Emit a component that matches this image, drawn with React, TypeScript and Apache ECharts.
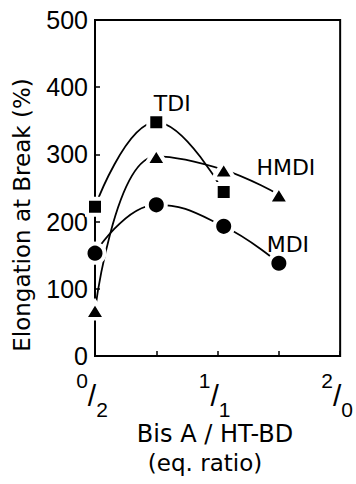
import React, { useEffect, useRef } from 'react';
import * as echarts from 'echarts';

// Bis A fraction of the chain extender (0 = all HT-BD, 2 = all Bis A)
const ratioX = [0, 0.5, 1.05, 1.5];
// Elongation at break (%) for each diisocyanate
const tdiElong = [222, 348, 244];
const hmdiElong = [68, 297, 277, 240];
const mdiElong = [153, 225, 193, 138];

// Fractional tick labels "Bis A / HT-BD"
const fracTop = ['0', '1', '2'];
const fracBottom = ['2', '1', '0'];

const yTitle = 'Elongation at Break (%)';
const xTitle = 'Bis A / HT-BD';
const xSubTitle = '(eq. ratio)';

const INK = '#000';
const TEXT_FONT = 'DejaVu Sans';
const NUM_FONT = 'Liberation Sans';

function buildData(ys: number[], name: string, labelIdx: number, offset: number[]) {
  return ys.map((y, i) => {
    if (i !== labelIdx) return [ratioX[i], y];
    return {
      value: [ratioX[i], y],
      label: {
        show: true,
        formatter: name,
        position: 'inside',
        offset,
        color: INK,
        fontSize: 22,
        fontFamily: TEXT_FONT,
        textBorderWidth: 0,
        align: 'center',
        verticalAlign: 'middle',
      },
    };
  });
}

function lineSeries(name: string, data: any[], symbol: string, symbolSize: any) {
  return {
    name,
    type: 'line',
    data,
    smooth: 0.45,
    symbol,
    symbolSize,
    lineStyle: { color: INK, width: 1.8 },
    itemStyle: { color: INK, borderColor: '#fff', borderWidth: 4 },
    label: { show: false },
    emphasis: { disabled: true },
  };
}

export default function App() {
  const ref = useRef<HTMLDivElement>(null);

  useEffect(() => {
    if (!ref.current) return;
    const chart = echarts.init(ref.current, null, { renderer: 'svg' });
    chart.setOption({
      animation: false,
      backgroundColor: '#fff',
      grid: {
        left: 95,
        right: 14,
        top: 20,
        bottom: 128,
        show: true,
        borderColor: INK,
        borderWidth: 2,
        backgroundColor: 'transparent',
      },
      xAxis: {
        type: 'value',
        min: 0,
        max: 2,
        interval: 0.5,
        axisLine: { show: true, lineStyle: { color: INK, width: 2 } },
        axisTick: { show: true, inside: true, length: 5, lineStyle: { color: INK, width: 1.5 } },
        splitLine: { show: false },
        axisLabel: {
          margin: 14,
          padding: [0, 6, 0, 0],
          color: INK,
          formatter: (v: number) => {
            const idx = Math.round(v);
            if (Math.abs(v - idx) > 1e-6) return '';
            return `{t|${fracTop[idx]}}{s|/}{b|${fracBottom[idx]}}`;
          },
          rich: {
            t: {
              fontSize: 21, fontFamily: NUM_FONT, color: INK,
              lineHeight: 22, verticalAlign: 'top', align: 'center',
            },
            s: {
              fontSize: 30, fontFamily: NUM_FONT, color: INK,
              lineHeight: 50, verticalAlign: 'middle', align: 'center',
            },
            b: {
              fontSize: 21, fontFamily: NUM_FONT, color: INK,
              lineHeight: 32, verticalAlign: 'bottom', align: 'center',
            },
          },
        },
      },
      yAxis: {
        type: 'value',
        min: 0,
        max: 500,
        interval: 100,
        axisLine: { show: true, lineStyle: { color: INK, width: 2 } },
        axisTick: { show: true, inside: true, length: 5, lineStyle: { color: INK, width: 1.5 } },
        splitLine: { show: false },
        axisLabel: { margin: 7, color: INK, fontSize: 25, fontFamily: NUM_FONT },
      },
      series: [
        lineSeries('TDI', buildData(tdiElong, 'TDI', 1, [16, -19]), 'rect', 16),
        lineSeries('HMDI', buildData(hmdiElong, 'HMDI', 3, [7, -27]), 'triangle', [21, 17]),
        lineSeries('MDI', buildData(mdiElong, 'MDI', 3, [9, -19]), 'circle', 19),
      ],
      graphic: [
        {
          type: 'text',
          x: 22,
          y: 215,
          rotation: Math.PI / 2,
          style: {
            text: yTitle,
            fontSize: 23,
            fontFamily: TEXT_FONT,
            fill: INK,
            textAlign: 'center',
            textVerticalAlign: 'middle',
            align: 'center',
            verticalAlign: 'middle',
          },
        },
        {
          type: 'text',
          x: 215,
          y: 434,
          style: {
            text: xTitle,
            fontSize: 24,
            fontFamily: TEXT_FONT,
            fill: INK,
            textAlign: 'center',
            textVerticalAlign: 'middle',
            align: 'center',
            verticalAlign: 'middle',
          },
        },
        {
          type: 'text',
          x: 205,
          y: 463,
          style: {
            text: xSubTitle,
            fontSize: 23,
            fontFamily: TEXT_FONT,
            fill: INK,
            textAlign: 'center',
            textVerticalAlign: 'middle',
            align: 'center',
            verticalAlign: 'middle',
          },
        },
      ],
    });
    return () => chart.dispose();
  }, []);

  return (
    <div
      ref={ref}
      style={{ position: 'absolute', left: 0, top: 0, width: 356, height: 484 }}
    />
  );
}
